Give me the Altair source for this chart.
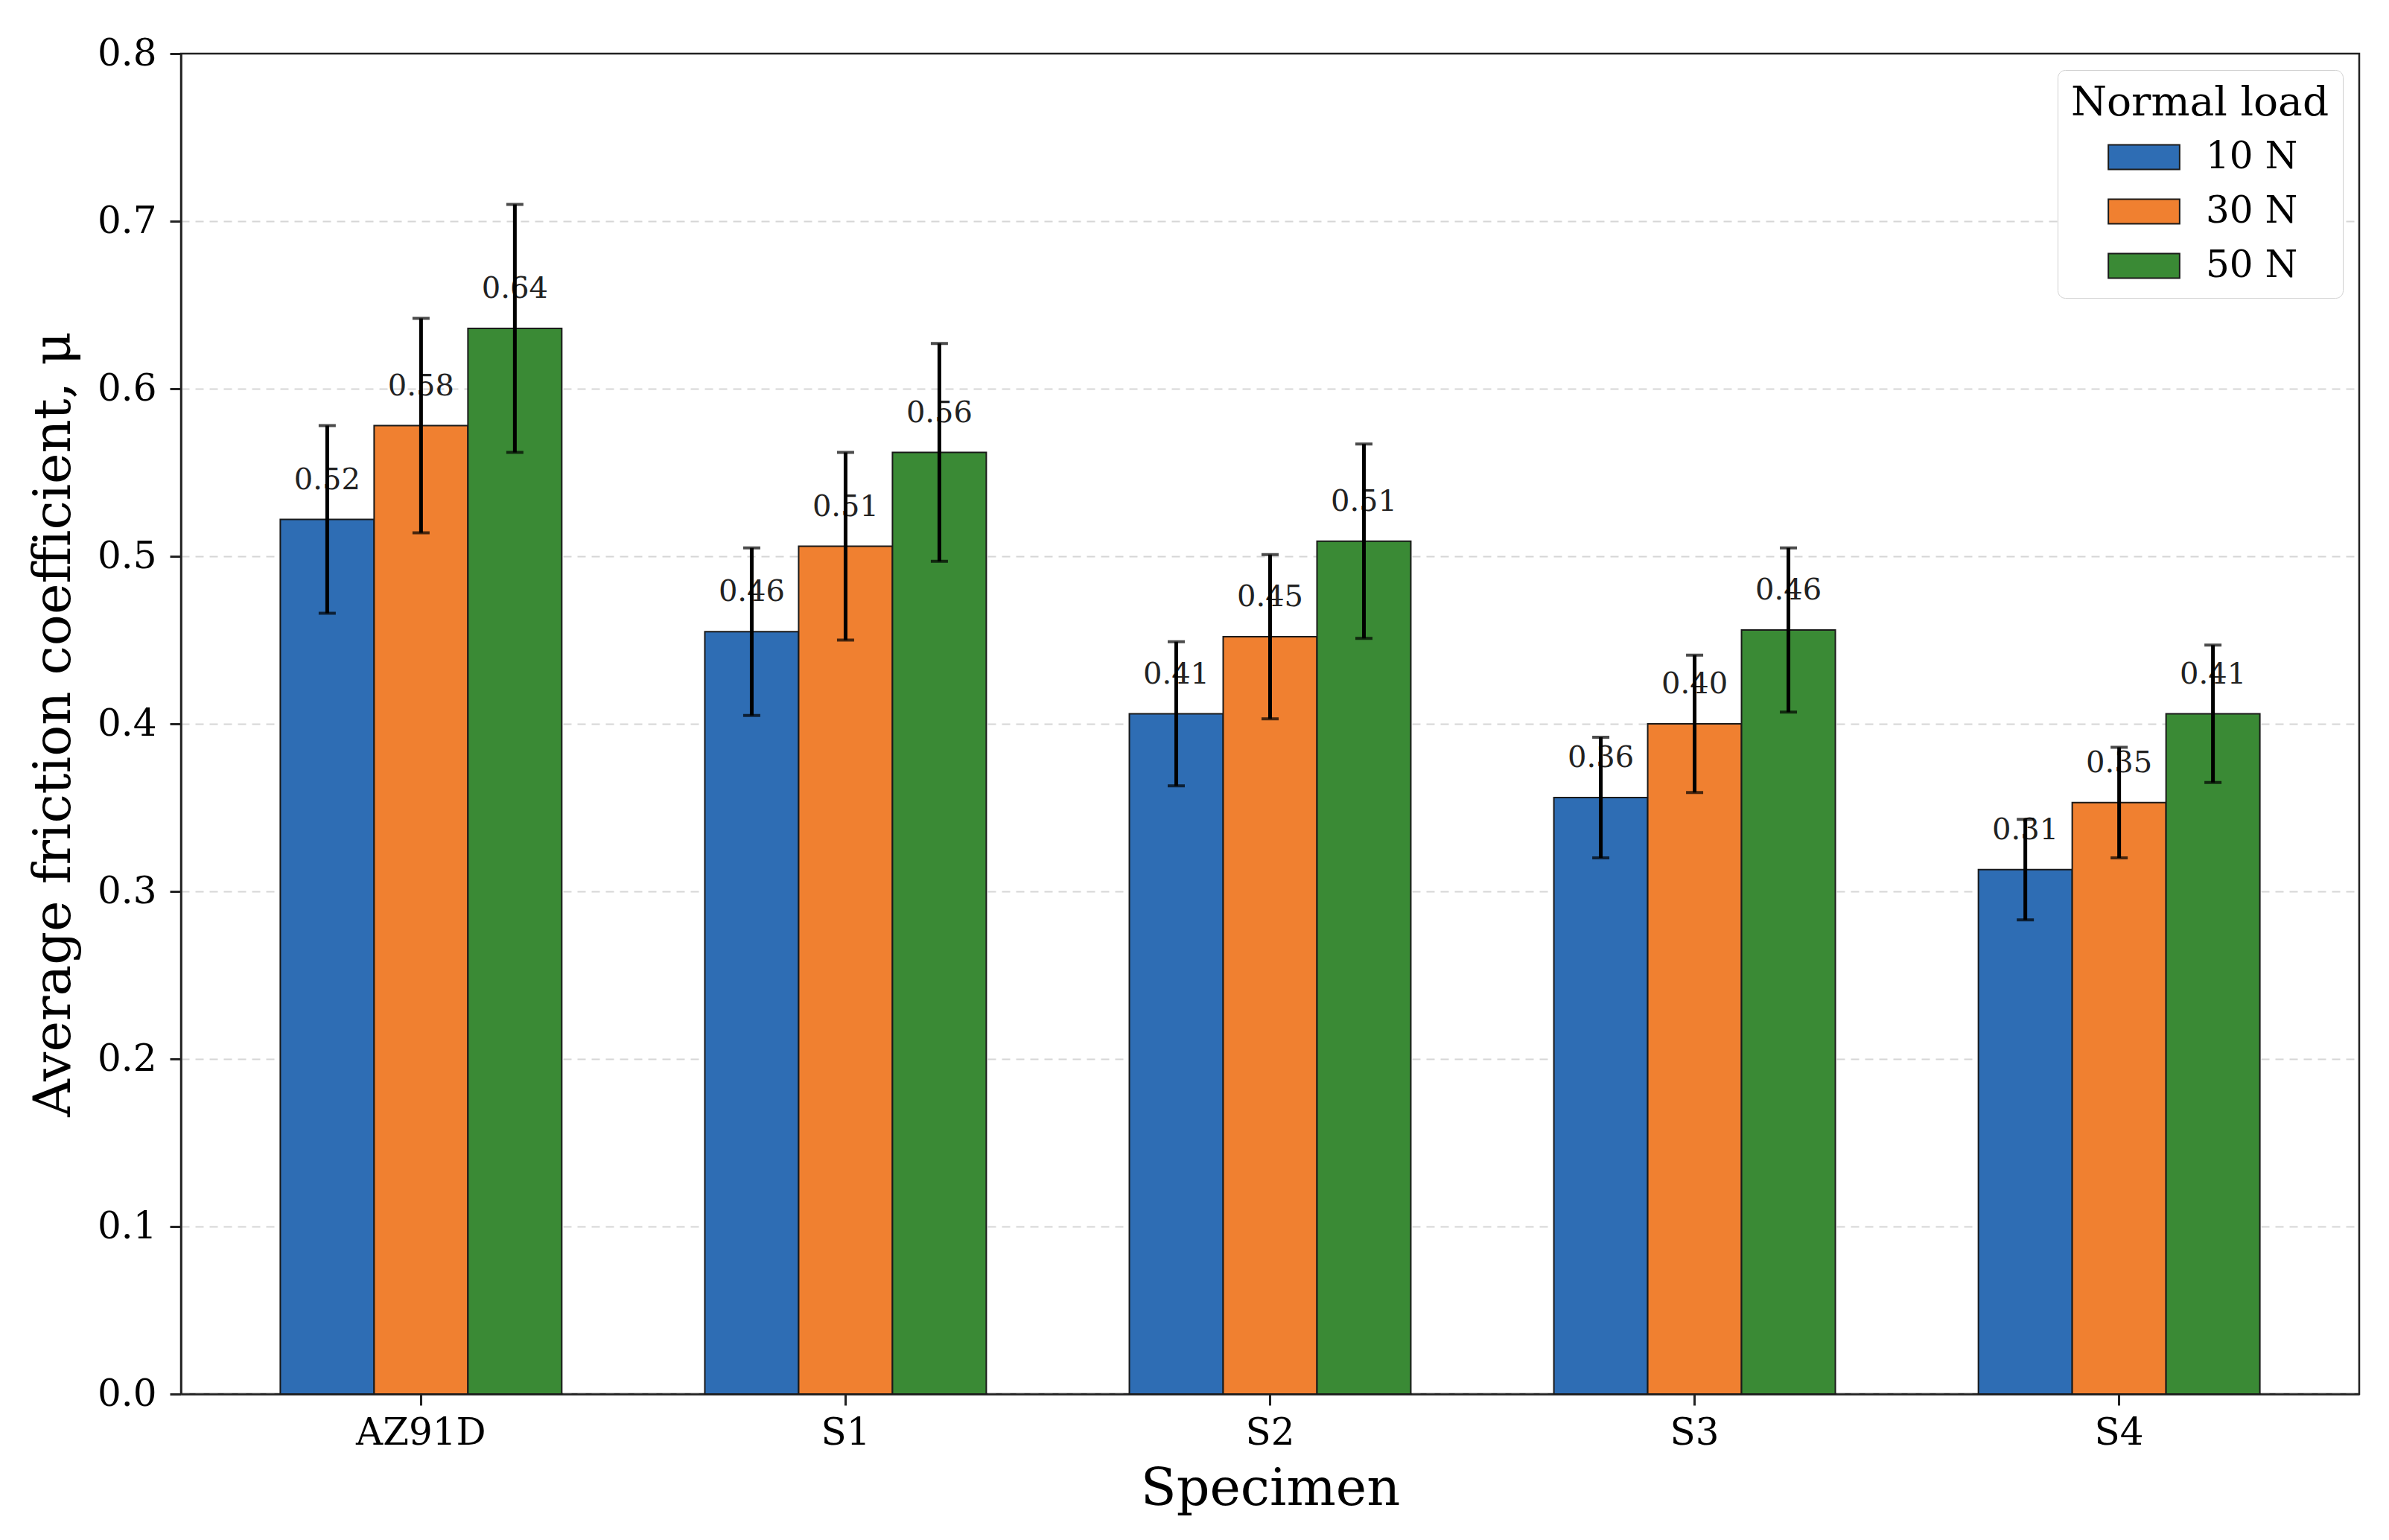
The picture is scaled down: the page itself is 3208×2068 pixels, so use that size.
import altair as alt
import pandas as pd

specimens = ["AZ91D", "S1", "S2", "S3", "S4"]
loads = ["10 N", "30 N", "50 N"]
mu_10 = [0.522, 0.455, 0.406, 0.356, 0.313]
mu_30 = [0.578, 0.506, 0.452, 0.400, 0.353]
mu_50 = [0.636, 0.562, 0.509, 0.456, 0.406]
err_10 = [0.056, 0.050, 0.043, 0.036, 0.030]
err_30 = [0.064, 0.056, 0.049, 0.041, 0.033]
err_50 = [0.074, 0.065, 0.058, 0.049, 0.041]
colors = ["#2e6db4", "#f08030", "#3a8a35"]
y_ticks = [0.0, 0.1, 0.2, 0.3, 0.4, 0.5, 0.6, 0.7, 0.8]

rows = []
for load, mus, errs in zip(loads, [mu_10, mu_30, mu_50], [err_10, err_30, err_50]):
    for s, m, e in zip(specimens, mus, errs):
        rows.append({"specimen": s, "load": load, "mu": m, "lo": m - e, "hi": m + e})
df = pd.DataFrame(rows)

FONT = "DejaVu Serif"

x_enc = alt.X(
    "specimen:N",
    sort=specimens,
    scale=alt.Scale(paddingInner=0.337, paddingOuter=0.234),
    axis=alt.Axis(
        title="Specimen",
        labelAngle=0,
        labelFont=FONT,
        labelFontSize=50,
        labelColor="black",
        labelPadding=12,
        titleFont=FONT,
        titleFontSize=70,
        titleFontWeight="normal",
        titleColor="black",
        titleY=148,
        titleBaseline="alphabetic",
        tickSize=15,
        tickWidth=3,
        tickColor="#222",
        domainColor="#222",
        domainWidth=2.5,
        grid=False,
    ),
)
xoff_enc = alt.XOffset("load:N", sort=loads, scale=alt.Scale(paddingInner=0, paddingOuter=0))
y_scale = alt.Scale(domain=[0, 0.8], nice=False, zero=True)

base = alt.Chart(df)

bars = base.mark_bar(stroke="#1a1a1a", strokeWidth=2).encode(
    x=x_enc,
    xOffset=xoff_enc,
    y=alt.Y(
        "mu:Q",
        scale=y_scale,
        axis=alt.Axis(
            title="Average friction coefficient, μ",
            values=y_ticks,
            format=".1f",
            labelFont=FONT,
            labelFontSize=50,
            labelColor="black",
            labelPadding=18,
            titleFont=FONT,
            titleFontSize=70,
            titleFontWeight="normal",
            titleColor="black",
            titleAngle=270,
            titleX=-150,
            titleY=900,
            titleAlign="center",
            titleBaseline="alphabetic",
            tickSize=15,
            tickWidth=3,
            tickColor="#222",
            domainColor="#222",
            domainWidth=2.5,
            grid=True,
            gridDash=[11, 8],
            gridColor="#d6d6d6",
            gridWidth=2,
            gridOpacity=alt.condition("datum.value >= 0.79", alt.value(0), alt.value(1)),
        ),
    ),
    color=alt.Color(
        "load:N",
        sort=loads,
        scale=alt.Scale(domain=loads, range=colors),
        legend=alt.Legend(
            title="Normal load",
            orient="top-right",
            offset=22,
            titleFont=FONT,
            titleFontSize=55,
            titleFontWeight="normal",
            titleColor="black",
            titleAnchor="middle",
            titleLimit=2000,
            titlePadding=10,
            labelFont=FONT,
            labelFontSize=50,
            labelColor="black",
            labelOffset=49,
            labelLimit=1000,
            symbolType="M-1.45,-0.5L1.45,-0.5L1.45,0.5L-1.45,0.5Z",
            symbolSize=4356,
            symbolStrokeColor="#1a1a1a",
            symbolStrokeWidth=2,
            symbolOpacity=1,
            symbolOffset=22,
            rowPadding=14,
            padding=18,
            strokeColor="#d0d0d0",
            fillColor="white",
            cornerRadius=10,
        ),
    ),
)

err_rule = base.mark_rule(color="black", strokeWidth=5).encode(
    x=x_enc, xOffset=xoff_enc, y=alt.Y("lo:Q", scale=y_scale), y2="hi:Q"
)
cap_hi = base.mark_tick(color="black", thickness=4, size=23, orient="horizontal").encode(
    x=x_enc, xOffset=xoff_enc, y=alt.Y("hi:Q", scale=y_scale)
)
cap_lo = base.mark_tick(color="black", thickness=4, size=23, orient="horizontal").encode(
    x=x_enc, xOffset=xoff_enc, y=alt.Y("lo:Q", scale=y_scale)
)
labels = base.mark_text(
    dy=-41, baseline="alphabetic", align="center", font=FONT, fontSize=40, color="#222"
).encode(
    x=x_enc, xOffset=xoff_enc, y=alt.Y("mu:Q", scale=y_scale), text=alt.Text("mu:Q", format=".2f")
)

chart = (
    alt.layer(bars, labels, err_rule, cap_hi, cap_lo)
    .properties(
        width=2925,
        height=1800,
        autosize=alt.AutoSizeParams(type="none"),
        padding={"left": 235, "top": 64, "right": 30, "bottom": 188},
        background="white",
    )
    .configure_view(stroke="#222", strokeWidth=2.5)
)

chart.save("out.html", embed_options={"renderer": "svg", "actions": False})
